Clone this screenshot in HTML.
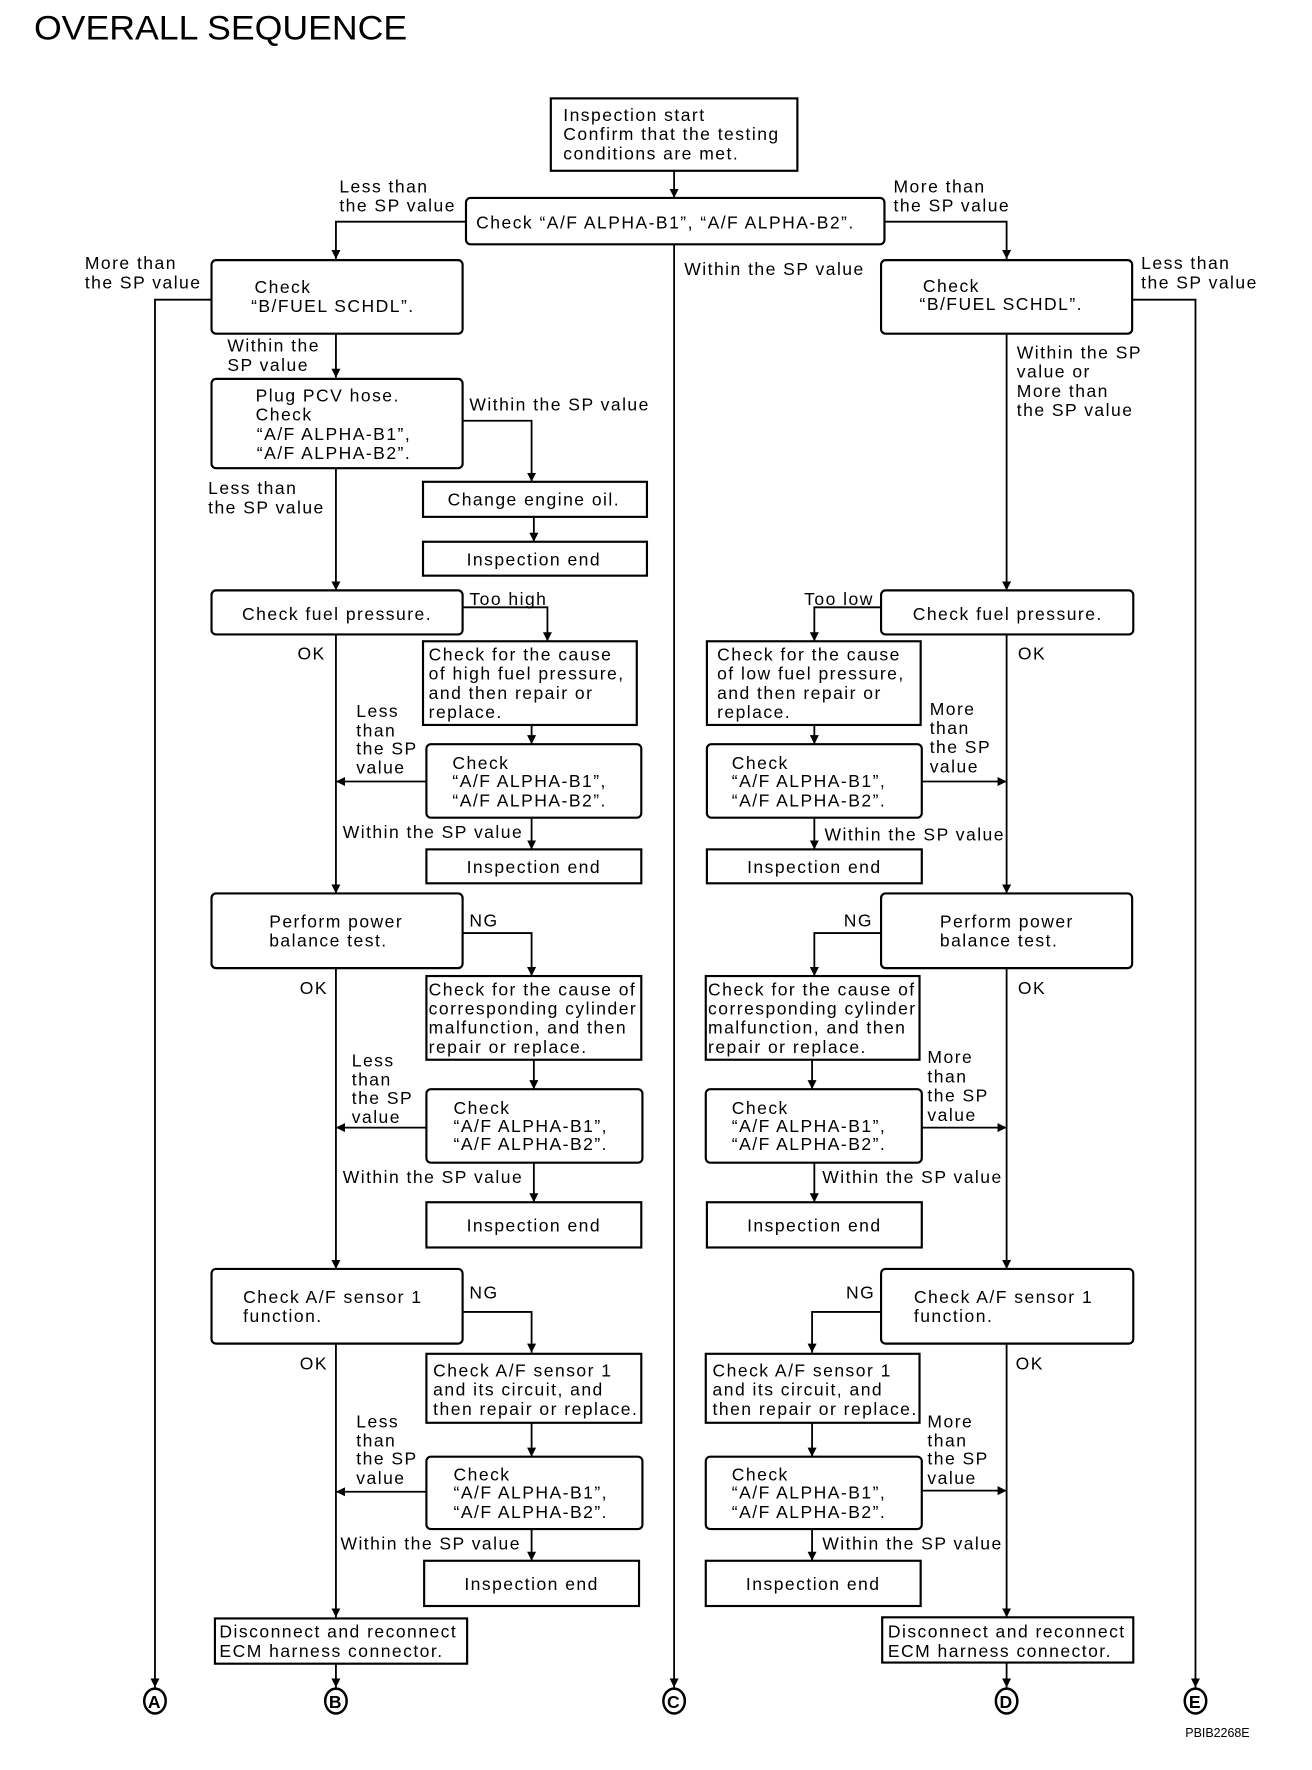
<!DOCTYPE html>
<html><head><meta charset="utf-8"><style>
html,body{margin:0;padding:0;background:#fff;}
svg{display:block;}
text{font-family:"Liberation Sans",Arial,sans-serif;font-size:15.5px;fill:#000;letter-spacing:1.3px;}
.b{fill:#fff;stroke:#000;stroke-width:1.9;}
.l{fill:none;stroke:#000;stroke-width:1.6;}
.c{text-anchor:middle;}
</style></head><body>
<svg width="1312" height="1770" viewBox="0 0 1160 1565" xmlns="http://www.w3.org/2000/svg">
<defs><marker id="a" viewBox="0 0 10 10" refX="10" refY="5" markerWidth="8" markerHeight="8" orient="auto" markerUnits="userSpaceOnUse"><path d="M0,0 L10,5 L0,10 z" fill="#000"/></marker></defs>
<text x="30" y="35" style="font-size:30px;letter-spacing:0" textLength="330" lengthAdjust="spacingAndGlyphs">OVERALL SEQUENCE</text>

<rect class="b" x="487" y="87" width="218" height="64"/>
<text x="498" y="107">Inspection start</text><text x="498" y="124">Confirm that the testing</text><text x="498" y="141">conditions are met.</text>
<path class="l" d="M596,151 V175" marker-end="url(#a)"/>
<rect class="b" x="412" y="175" width="370" height="41" rx="4"/>
<text x="421" y="202">Check “A/F ALPHA-B1”, “A/F ALPHA-B2”.</text>
<path class="l" d="M412,196 H297 V229" marker-end="url(#a)"/>
<text x="300" y="170">Less than</text><text x="300" y="187">the SP value</text>
<path class="l" d="M782,196 H890 V229" marker-end="url(#a)"/>
<text x="790" y="170">More than</text><text x="790" y="187">the SP value</text>
<path class="l" d="M596,216 V1492" marker-end="url(#a)"/>
<text x="605" y="243">Within the SP value</text>

<rect class="b" x="187" y="230" width="222" height="65" rx="4"/>
<text x="225" y="259">Check</text><text x="222" y="276">“B/FUEL SCHDL”.</text>
<text x="75" y="238">More than</text><text x="75" y="255">the SP value</text>
<path class="l" d="M187,265 H137 V1492" marker-end="url(#a)"/>
<rect class="b" x="779" y="230" width="222" height="65" rx="4"/>
<text x="816" y="258">Check</text><text x="813" y="274">“B/FUEL SCHDL”.</text>
<text x="1009" y="238">Less than</text><text x="1009" y="255">the SP value</text>
<path class="l" d="M1001,265 H1057 V1492" marker-end="url(#a)"/>

<path class="l" d="M297,295 V334" marker-end="url(#a)"/>
<text x="201" y="311">Within the</text><text x="201" y="328">SP value</text>
<rect class="b" x="187" y="335" width="222" height="79" rx="4"/>
<text x="226" y="355">Plug PCV hose.</text><text x="226" y="372">Check</text><text x="227" y="389">“A/F ALPHA-B1”,</text><text x="227" y="406">“A/F ALPHA-B2”.</text>
<path class="l" d="M409,372 H470 V426" marker-end="url(#a)"/>
<text x="415" y="363">Within the SP value</text>
<rect class="b" x="374" y="426" width="198" height="31"/><text class="c" x="472" y="447">Change engine oil.</text>
<path class="l" d="M472,457 V479" marker-end="url(#a)"/>
<rect class="b" x="374" y="479" width="198" height="30"/><text class="c" x="472" y="500">Inspection end</text>
<path class="l" d="M297,414 V522" marker-end="url(#a)"/>
<text x="184" y="437">Less than</text><text x="184" y="454">the SP value</text>
<path class="l" d="M890,295 V522" marker-end="url(#a)"/>
<text x="899" y="317">Within the SP</text><text x="899" y="334">value or</text><text x="899" y="351">More than</text><text x="899" y="368">the SP value</text>

<rect class="b" x="187" y="522" width="222" height="39" rx="4"/><text x="214" y="548">Check fuel pressure.</text>
<path class="l" d="M409,537 H484 V567" marker-end="url(#a)"/><text x="415" y="535">Too high</text>
<rect class="b" x="374" y="567" width="189" height="74"/>
<text x="379" y="584">Check for the cause</text><text x="379" y="601">of high fuel pressure,</text><text x="379" y="618">and then repair or</text><text x="379" y="635">replace.</text>
<path class="l" d="M470,641 V658" marker-end="url(#a)"/>
<rect class="b" x="377" y="658" width="190" height="65" rx="4"/>
<text x="400" y="680">Check</text><text x="400" y="696">“A/F ALPHA-B1”,</text><text x="400" y="713">“A/F ALPHA-B2”.</text>
<path class="l" d="M377,691 H297" marker-end="url(#a)"/>
<text x="315" y="634">Less</text><text x="315" y="651">than</text><text x="315" y="667">the SP</text><text x="315" y="684">value</text>
<text x="263" y="583">OK</text>
<path class="l" d="M470,723 V751" marker-end="url(#a)"/><text x="303" y="741">Within the SP value</text>
<rect class="b" x="377" y="751" width="190" height="30"/><text class="c" x="472" y="772">Inspection end</text>
<path class="l" d="M297,561 V790" marker-end="url(#a)"/>

<rect class="b" x="779" y="522" width="223" height="39" rx="4"/><text x="807" y="548">Check fuel pressure.</text>
<path class="l" d="M779,537 H720 V567" marker-end="url(#a)"/><text x="711" y="535">Too low</text>
<rect class="b" x="625" y="567" width="189" height="74"/>
<text x="634" y="584">Check for the cause</text><text x="634" y="601">of low fuel pressure,</text><text x="634" y="618">and then repair or</text><text x="634" y="635">replace.</text>
<path class="l" d="M720,641 V658" marker-end="url(#a)"/>
<rect class="b" x="625" y="658" width="190" height="65" rx="4"/>
<text x="647" y="680">Check</text><text x="647" y="696">“A/F ALPHA-B1”,</text><text x="647" y="713">“A/F ALPHA-B2”.</text>
<path class="l" d="M815,691 H890" marker-end="url(#a)"/>
<text x="822" y="632">More</text><text x="822" y="649">than</text><text x="822" y="666">the SP</text><text x="822" y="683">value</text>
<text x="900" y="583">OK</text>
<path class="l" d="M720,723 V751" marker-end="url(#a)"/><text x="729" y="743">Within the SP value</text>
<rect class="b" x="625" y="751" width="190" height="30"/><text class="c" x="720" y="772">Inspection end</text>
<path class="l" d="M890,561 V790" marker-end="url(#a)"/>

<rect class="b" x="187" y="790" width="222" height="66" rx="4"/><text x="238" y="820">Perform power</text><text x="238" y="837">balance test.</text>
<path class="l" d="M409,825 H470 V863" marker-end="url(#a)"/><text x="415" y="819">NG</text><text x="265" y="879">OK</text>
<rect class="b" x="377" y="863" width="190" height="74"/>
<text x="379" y="880">Check for the cause of</text><text x="379" y="897">corresponding cylinder</text><text x="379" y="914">malfunction, and then</text><text x="379" y="931">repair or replace.</text>
<path class="l" d="M472,937 V963" marker-end="url(#a)"/>
<rect class="b" x="377" y="963" width="191" height="65" rx="4"/>
<text x="401" y="985">Check</text><text x="401" y="1001">“A/F ALPHA-B1”,</text><text x="401" y="1017">“A/F ALPHA-B2”.</text>
<path class="l" d="M377,997 H297" marker-end="url(#a)"/>
<text x="311" y="943">Less</text><text x="311" y="960">than</text><text x="311" y="976">the SP</text><text x="311" y="993">value</text>
<path class="l" d="M472,1028 V1063" marker-end="url(#a)"/><text x="303" y="1046">Within the SP value</text>
<rect class="b" x="377" y="1063" width="190" height="40"/><text class="c" x="472" y="1089">Inspection end</text>
<path class="l" d="M297,856 V1122" marker-end="url(#a)"/>

<rect class="b" x="779" y="790" width="222" height="66" rx="4"/><text x="831" y="820">Perform power</text><text x="831" y="837">balance test.</text>
<path class="l" d="M779,825 H720 V863" marker-end="url(#a)"/><text x="746" y="819">NG</text><text x="900" y="879">OK</text>
<rect class="b" x="624" y="863" width="189" height="74"/>
<text x="626" y="880">Check for the cause of</text><text x="626" y="897">corresponding cylinder</text><text x="626" y="914">malfunction, and then</text><text x="626" y="931">repair or replace.</text>
<path class="l" d="M718,937 V963" marker-end="url(#a)"/>
<rect class="b" x="624" y="963" width="191" height="65" rx="4"/>
<text x="647" y="985">Check</text><text x="647" y="1001">“A/F ALPHA-B1”,</text><text x="647" y="1017">“A/F ALPHA-B2”.</text>
<path class="l" d="M815,997 H890" marker-end="url(#a)"/>
<text x="820" y="940">More</text><text x="820" y="957">than</text><text x="820" y="974">the SP</text><text x="820" y="991">value</text>
<path class="l" d="M720,1028 V1063" marker-end="url(#a)"/><text x="727" y="1046">Within the SP value</text>
<rect class="b" x="625" y="1063" width="190" height="40"/><text class="c" x="720" y="1089">Inspection end</text>
<path class="l" d="M890,856 V1122" marker-end="url(#a)"/>

<rect class="b" x="187" y="1122" width="222" height="66" rx="4"/><text x="215" y="1152">Check A/F sensor 1</text><text x="215" y="1169">function.</text>
<path class="l" d="M409,1160 H470 V1196" marker-end="url(#a)"/><text x="415" y="1148">NG</text><text x="265" y="1211">OK</text>
<rect class="b" x="377" y="1197" width="190" height="61"/>
<text x="383" y="1217">Check A/F sensor 1</text><text x="383" y="1234">and its circuit, and</text><text x="383" y="1251">then repair or replace.</text>
<path class="l" d="M470,1258 V1288" marker-end="url(#a)"/>
<rect class="b" x="377" y="1288" width="191" height="64" rx="4"/>
<text x="401" y="1309">Check</text><text x="401" y="1325">“A/F ALPHA-B1”,</text><text x="401" y="1342">“A/F ALPHA-B2”.</text>
<path class="l" d="M377,1319 H297" marker-end="url(#a)"/>
<text x="315" y="1262">Less</text><text x="315" y="1279">than</text><text x="315" y="1295">the SP</text><text x="315" y="1312">value</text>
<path class="l" d="M470,1352 V1380" marker-end="url(#a)"/><text x="301" y="1370">Within the SP value</text>
<rect class="b" x="375" y="1380" width="190" height="40"/><text class="c" x="470" y="1406">Inspection end</text>
<path class="l" d="M297,1188 V1430" marker-end="url(#a)"/>
<rect class="b" x="190" y="1431" width="223" height="40"/><text x="194" y="1448">Disconnect and reconnect</text><text x="194" y="1465">ECM harness connector.</text>
<path class="l" d="M297,1471 V1492" marker-end="url(#a)"/>

<rect class="b" x="779" y="1122" width="223" height="66" rx="4"/><text x="808" y="1152">Check A/F sensor 1</text><text x="808" y="1169">function.</text>
<path class="l" d="M779,1160 H718 V1196" marker-end="url(#a)"/><text x="748" y="1148">NG</text><text x="898" y="1211">OK</text>
<rect class="b" x="624" y="1197" width="189" height="61"/>
<text x="630" y="1217">Check A/F sensor 1</text><text x="630" y="1234">and its circuit, and</text><text x="630" y="1251">then repair or replace.</text>
<path class="l" d="M718,1258 V1288" marker-end="url(#a)"/>
<rect class="b" x="624" y="1288" width="191" height="64" rx="4"/>
<text x="647" y="1309">Check</text><text x="647" y="1325">“A/F ALPHA-B1”,</text><text x="647" y="1342">“A/F ALPHA-B2”.</text>
<path class="l" d="M815,1318 H890" marker-end="url(#a)"/>
<text x="820" y="1262">More</text><text x="820" y="1279">than</text><text x="820" y="1295">the SP</text><text x="820" y="1312">value</text>
<path class="l" d="M718,1352 V1380" marker-end="url(#a)"/><text x="727" y="1370">Within the SP value</text>
<rect class="b" x="624" y="1380" width="190" height="40"/><text class="c" x="719" y="1406">Inspection end</text>
<path class="l" d="M890,1188 V1430" marker-end="url(#a)"/>
<rect class="b" x="780" y="1430" width="222" height="40"/><text x="785" y="1448">Disconnect and reconnect</text><text x="785" y="1465">ECM harness connector.</text>
<path class="l" d="M890,1470 V1492" marker-end="url(#a)"/>

<g style="fill:#fff;stroke:#000;stroke-width:2.2">
<ellipse cx="137" cy="1504" rx="9.5" ry="11"/><ellipse cx="297" cy="1504" rx="9.5" ry="11"/><ellipse cx="596" cy="1504" rx="9.5" ry="11"/><ellipse cx="890" cy="1504" rx="9.5" ry="11"/><ellipse cx="1057" cy="1504" rx="9.5" ry="11"/>
</g>
<g style="font-weight:bold;font-size:17px;letter-spacing:0;text-anchor:middle">
<text x="137" y="1510">A</text><text x="297" y="1510">B</text><text x="596" y="1510">C</text><text x="890" y="1510">D</text><text x="1057" y="1510">E</text>
</g>
<text x="1048" y="1536" style="font-size:11px;letter-spacing:0">PBIB2268E</text>
</svg>
</body></html>
